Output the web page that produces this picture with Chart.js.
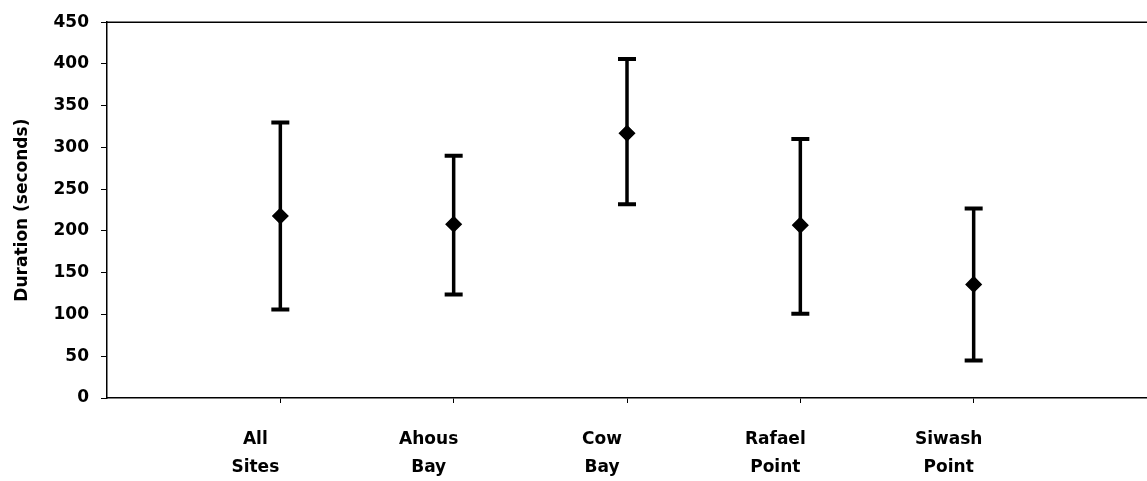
<!DOCTYPE html>
<html>
<head>
<meta charset="utf-8">
<script src="https://cdn.jsdelivr.net/npm/chart.js@4.4.1/dist/chart.umd.min.js"></script>
<style>
  body { margin: 0; background: #fff; }
  .wrap { width: 1147px; height: 481px; position: relative; }
</style>
</head>
<body>
<div class="wrap"><canvas id="chart"></canvas></div>
<script>
// sites along the x axis (multi-line labels)
const siteLabels = [['All', 'Sites'], ['Ahous', 'Bay'], ['Cow', 'Bay'], ['Rafael', 'Point'], ['Siwash', 'Point']];
// mean duration (seconds) and the ends of the error bars
const meanDuration = [218, 208, 317, 207, 136];
const lowDuration = [106, 124, 232, 101, 45];
const highDuration = [330, 290, 406, 310, 227];
const yTicks = [0, 50, 100, 150, 200, 250, 300, 350, 400, 450];

const ink = '#000';

// one little line dataset per site for the error bar, caps are 'line' points
const errorSets = siteLabels.map((lab, i) => ({
    type: 'line',
    data: [{x: i + 1, y: lowDuration[i]}, {x: i + 1, y: highDuration[i]}],
    borderColor: ink,
    borderWidth: 3.5,
    pointStyle: 'line',
    pointRadius: 9,
    pointBorderWidth: 4,
    pointBorderColor: ink,
    order: 2
}));

const meanSet = {
    type: 'scatter',
    data: meanDuration.map((v, i) => ({x: i + 1, y: v})),
    pointStyle: 'rectRot',
    pointRadius: 7.5,
    pointBackgroundColor: ink,
    pointBorderColor: ink,
    pointBorderWidth: 1.5,
    order: 1
};

// top edge of the plot frame
const topLine = {
    id: 'topLine',
    afterDraw(chart) {
        const a = chart.chartArea;
        const c = chart.ctx;
        c.save();
        c.strokeStyle = ink;
        c.lineWidth = 1.5;
        c.beginPath();
        c.moveTo(a.left, a.top);
        c.lineTo(a.right, a.top);
        c.stroke();
        c.restore();
    }
};

new Chart(document.getElementById('chart'), {
    data: { datasets: [meanSet, ...errorSets] },
    plugins: [topLine],
    options: {
        responsive: true,
        maintainAspectRatio: false,
        animation: false,
        layout: { autoPadding: false, padding: { top: 19, right: 0, bottom: 0, left: 0 } },
        plugins: {
            legend: { display: false },
            tooltip: { enabled: false }
        },
        scales: {
            x: {
                type: 'linear',
                min: 0,
                max: 6,
                afterBuildTicks: function(scale){
                    scale.ticks = siteLabels.map((l, i) => ({value: i + 1}));
                },
                afterFit: function(scale){
                    scale.height = 83;
                    scale.paddingLeft = 0;
                    scale.paddingRight = 0;
                },
                grid: { drawOnChartArea: false, color: ink, tickLength: 5 },
                border: { color: ink, width: 1.5 },
                ticks: {
                    color: ink,
                    maxRotation: 0,
                    autoSkip: false,
                    padding: 23,
                    labelOffset: -25,
                    font: { family: 'DejaVu Sans', weight: 'bold', size: 17, lineHeight: 1.65 },
                    callback: function(value){ return siteLabels[value - 1]; }
                }
            },
            y: {
                min: 0,
                max: 450,
                afterBuildTicks: function(scale){
                    scale.ticks = yTicks.map(v => ({value: v}));
                },
                afterFit: function(scale){ scale.width = 107; },
                grid: { drawOnChartArea: false, color: ink, tickLength: 6 },
                border: { color: ink, width: 1.5 },
                ticks: {
                    color: ink,
                    padding: 12,
                    font: { family: 'DejaVu Sans', weight: 'bold', size: 17 }
                },
                title: {
                    display: true,
                    text: 'Duration (seconds)',
                    color: ink,
                    padding: { top: 12, bottom: 4 },
                    font: { family: 'DejaVu Sans', weight: 'bold', size: 17 }
                }
            }
        }
    }
});
</script>
</body>
</html>
